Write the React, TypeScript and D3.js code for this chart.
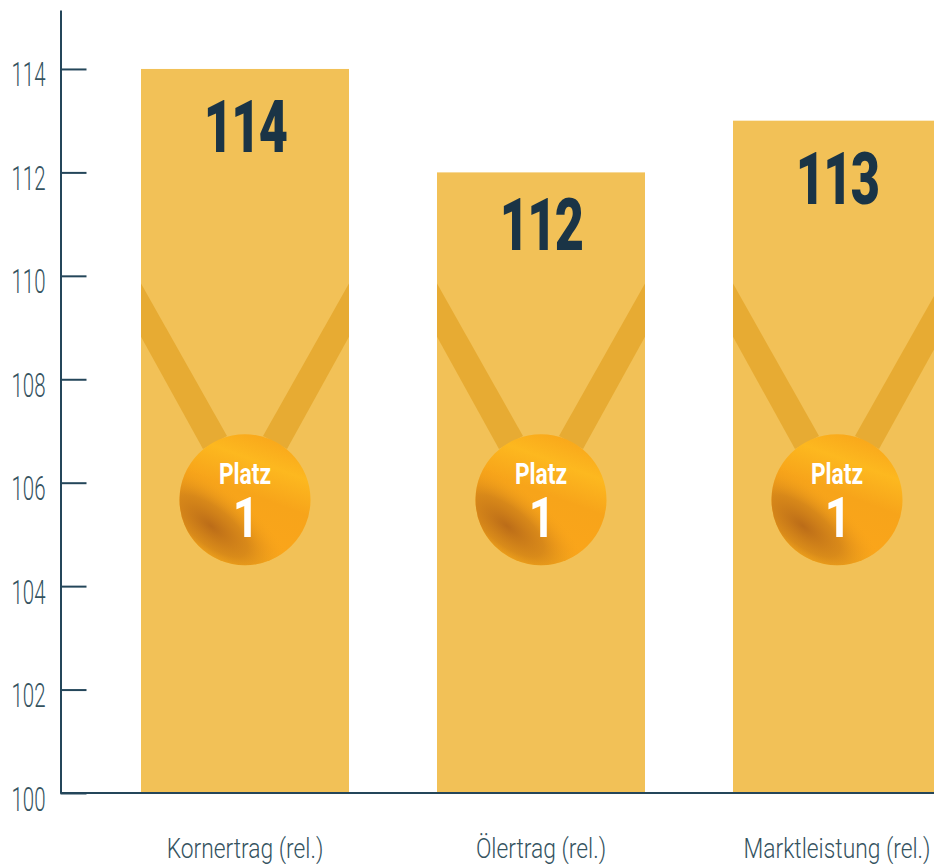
import { useEffect, useRef } from 'react'
import * as d3 from 'd3'

const categories = ['Kornertrag (rel.)', 'Ölertrag (rel.)', 'Marktleistung (rel.)']
const values = [114, 112, 113]
const yTicks = [100, 102, 104, 106, 108, 110, 112, 114]
const medalTitle = 'Platz'
const medalRank = '1'

const width = 934
const height = 864
const inkColor = '#1a3446'
const axisColor = '#24465a'
const labelColor = '#35535f'
const barColor = '#f2c157'
const ribbonColor = '#e7ab33'

export default function App() {
  const svgRef = useRef<SVGSVGElement>(null)

  useEffect(() => {
    if (!svgRef.current) return

    const svg = d3.select(svgRef.current)
    svg.selectAll('*').remove()
    svg.attr('width', width).attr('height', height)

    const xScale = d3.scaleBand<string>()
      .domain(categories)
      .range([141, 941])
      .paddingInner(88 / 296)
      .paddingOuter(0)

    const yScale = d3.scaleLinear()
      .domain([100, 115.14])
      .range([793, 10])

    // Verläufe für die Medaille
    const defs = svg.append('defs')
    const base = defs.append('linearGradient')
      .attr('id', 'medal-base')
      .attr('x1', 0.75).attr('y1', 0.05)
      .attr('x2', 0.4).attr('y2', 1)
    base.append('stop').attr('offset', '0%').attr('stop-color', '#f9a81b')
    base.append('stop').attr('offset', '20%').attr('stop-color', '#fdb81f')
    base.append('stop').attr('offset', '45%').attr('stop-color', '#f7a41a')
    base.append('stop').attr('offset', '78%').attr('stop-color', '#faa51a')
    base.append('stop').attr('offset', '100%').attr('stop-color', '#fdb21c')

    const shade = defs.append('radialGradient')
      .attr('id', 'medal-shade')
      .attr('cx', 0.5).attr('cy', 0.5).attr('r', 0.5)
      .attr('gradientTransform', 'translate(0.24 0.7) rotate(38) scale(1.5 0.62) translate(-0.5 -0.5)')
    shade.append('stop').attr('offset', '0%').attr('stop-color', '#bb6c18').attr('stop-opacity', 1)
    shade.append('stop').attr('offset', '45%').attr('stop-color', '#cb7d19').attr('stop-opacity', 0.72)
    shade.append('stop').attr('offset', '100%').attr('stop-color', '#f7a41a').attr('stop-opacity', 0)

    // Balken
    const bars = svg.append('g')
      .selectAll('g')
      .data(categories)
      .enter()
      .append('g')
      .attr('transform', d => `translate(${xScale(d)},0)`)

    const bw = xScale.bandwidth()

    bars.append('rect')
      .attr('width', bw)
      .attr('y', (_, i) => yScale(values[i]))
      .attr('height', (_, i) => yScale(100) - yScale(values[i]))
      .attr('fill', barColor)

    // Medaillenband
    const ribbonTop = yScale(109.85)
    const ribbonBottom = yScale(108.82)
    const ribbonLeft = `M0,${ribbonTop} L0,${ribbonBottom} L62,449 L86,436 Z`
    const ribbonRight = `M${bw},${ribbonTop} L${bw},${ribbonBottom} L${bw - 62},449 L${bw - 86},436 Z`
    bars.append('path').attr('d', ribbonLeft).attr('fill', ribbonColor)
    bars.append('path').attr('d', ribbonRight).attr('fill', ribbonColor)

    const medalY = yScale(105.67)
    bars.append('circle')
      .attr('cx', bw / 2).attr('cy', medalY).attr('r', 65.5)
      .attr('fill', 'url(#medal-base)')
    bars.append('circle')
      .attr('cx', bw / 2).attr('cy', medalY).attr('r', 65.5)
      .attr('fill', 'url(#medal-shade)')

    bars.append('text')
      .attr('transform', `translate(${bw / 2},${medalY - 16}) scale(0.76,1)`)
      .attr('text-anchor', 'middle')
      .attr('font-family', 'Roboto, sans-serif')
      .attr('font-weight', 700)
      .attr('font-size', 30)
      .attr('fill', '#ffffff')
      .text(medalTitle)

    bars.append('text')
      .attr('transform', `translate(${bw / 2 + 1},${medalY + 37}) scale(0.82,1)`)
      .attr('text-anchor', 'middle')
      .attr('font-family', 'Roboto, sans-serif')
      .attr('font-weight', 700)
      .attr('font-size', 56)
      .attr('fill', '#ffffff')
      .text(medalRank)

    // Wertbeschriftung
    bars.append('text')
      .attr('transform', (_, i) => `translate(${bw / 2},${yScale(values[i]) + (i === 1 ? 78 : 83)}) scale(0.7,1)`)
      .attr('text-anchor', 'middle')
      .attr('font-family', 'Roboto, sans-serif')
      .attr('font-weight', 900)
      .attr('font-size', 72)
      .attr('letter-spacing', -2.5)
      .attr('fill', inkColor)
      .text((_, i) => values[i])

    // Y-Achse
    const yAxis = svg.append('g')
      .attr('transform', 'translate(60.5,0)')
      .call(d3.axisLeft(yScale)
        .tickValues(yTicks)
        .tickSizeInner(-26)
        .tickSizeOuter(0))
    yAxis.select('.domain').attr('stroke', axisColor).attr('stroke-width', 2)
    yAxis.selectAll('line').attr('stroke', axisColor).attr('stroke-width', 2)
    yAxis.selectAll('text')
      .attr('x', null)
      .attr('dy', null)
      .attr('transform', 'translate(-15,17) scale(0.62,1)')
      .attr('font-family', 'Roboto, sans-serif')
      .attr('font-weight', 300)
      .attr('font-size', 33)
      .attr('fill', labelColor)

    // X-Achse
    const xAxis = svg.append('g')
      .attr('transform', 'translate(0,793)')
      .call(d3.axisBottom(xScale).tickSize(0))
    xAxis.select('.domain')
      .attr('d', `M60.5,0H${width}`)
      .attr('stroke', axisColor)
      .attr('stroke-width', 2)
    xAxis.selectAll('text')
      .attr('y', null)
      .attr('dy', null)
      .attr('transform', 'translate(0,65) scale(0.815,1)')
      .attr('font-family', 'Roboto, sans-serif')
      .attr('font-weight', 300)
      .attr('font-size', 28)
      .attr('fill', labelColor)
  }, [])

  return <svg ref={svgRef} style={{ position: 'absolute', left: 0, top: 0, background: '#fff' }} />
}
